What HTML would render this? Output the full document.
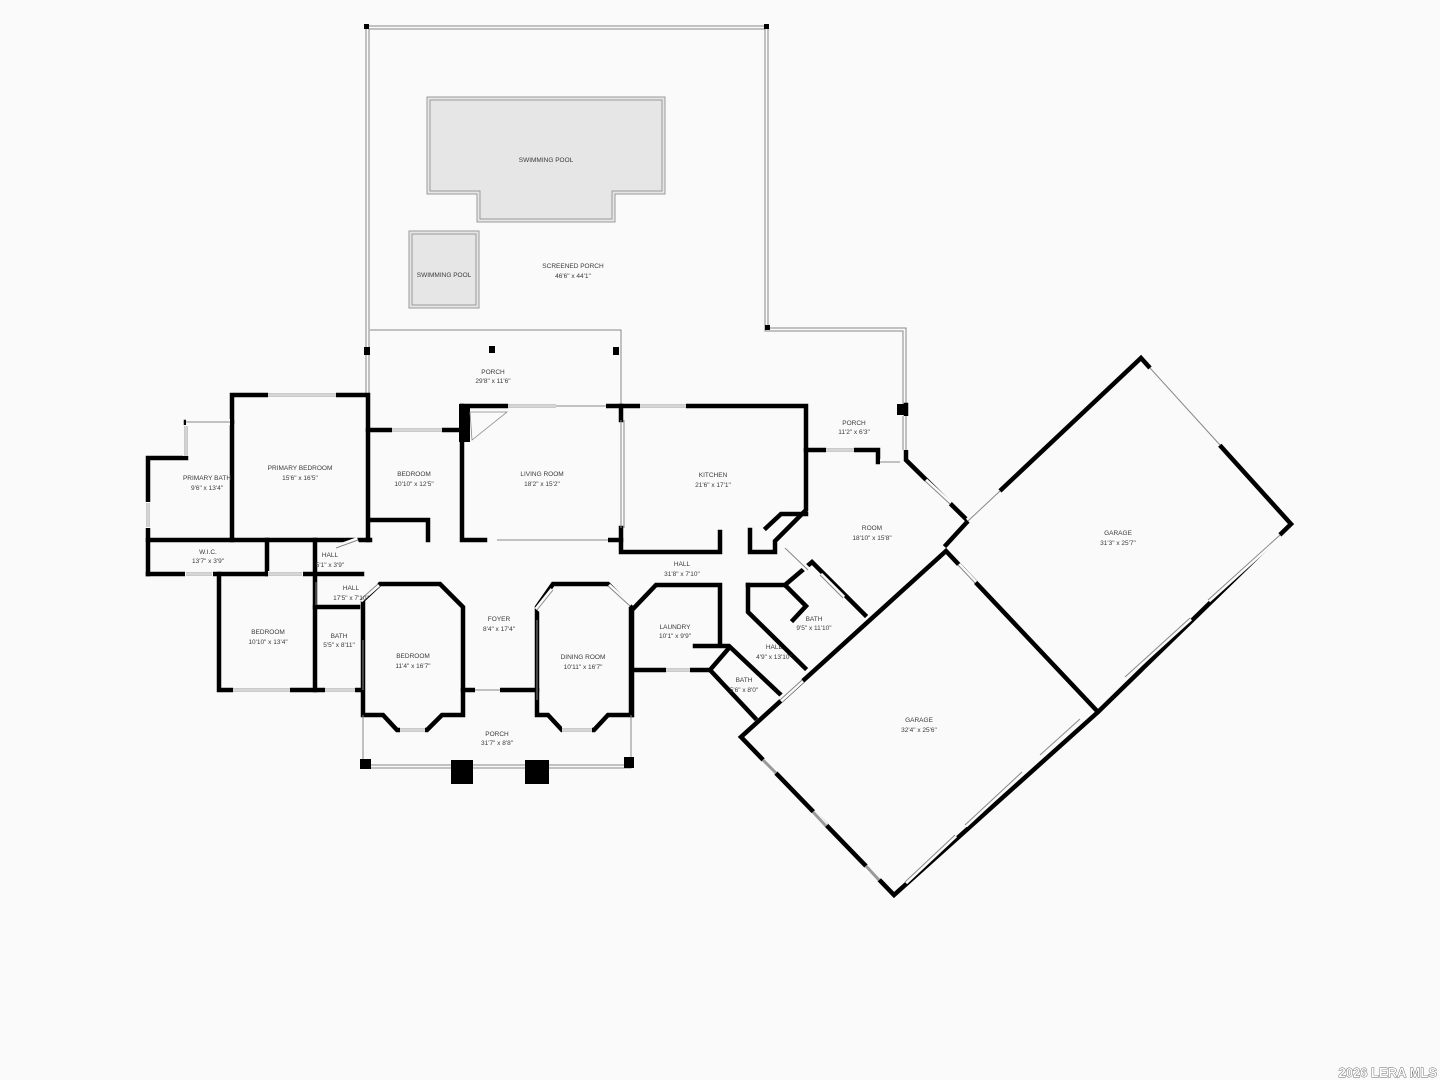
<!DOCTYPE html>
<html><head><meta charset="utf-8"><style>
html,body{margin:0;padding:0;background:#fafafa;width:1440px;height:1080px;overflow:hidden}
svg{display:block}
text{font-family:"Liberation Sans",sans-serif;font-size:6.5px;fill:#3a3a3a;text-anchor:middle}
.w{stroke:#000;stroke-width:4.5;fill:none;stroke-linecap:square}
.t{stroke:#888;stroke-width:1;fill:none}
.win{stroke:#999;stroke-width:3;fill:none}
.win2{stroke:#fafafa;stroke-width:1.2;fill:none}
.open{stroke:#fafafa;stroke-width:6;fill:none}
.wm{font-family:"Liberation Sans",sans-serif;font-weight:bold;font-size:13px;fill:#fff;stroke:#333;stroke-width:0.7;paint-order:stroke;text-anchor:end}
</style></head><body>
<svg width="1440" height="1080" viewBox="0 0 1440 1080" xmlns="http://www.w3.org/2000/svg">
<g class="t">
<path d="M366,26 H768 V328 H906 V405"/>
<path d="M369,29 H765 V331 H903 V405"/>
<path d="M366,26 V395 M369,29 V395"/>
<path d="M370,330 H621 V405"/>
</g>
<rect x="364" y="24" width="5" height="5"/><rect x="764" y="24" width="5" height="5"/><rect x="765" y="325" width="5" height="5"/>
<rect x="489" y="346" width="6" height="7"/><rect x="364" y="347" width="6" height="8"/><rect x="613" y="347" width="6" height="8"/>
<rect x="897" y="404" width="9" height="11"/>
<path d="M427,97 H665 V194 H615 V222 H477 V194 H427 Z" fill="#e6e6e6" stroke="#999" stroke-width="1"/>
<path d="M430,100 H662 V191 H612 V219 H480 V191 H430 Z" fill="none" stroke="#999" stroke-width="1"/>
<rect x="409" y="231" width="70" height="77" fill="#e6e6e6" stroke="#999" stroke-width="1"/>
<rect x="412" y="234" width="64" height="71" fill="none" stroke="#999" stroke-width="1"/>
<text x="546" y="162">SWIMMING POOL</text>
<text x="444" y="277">SWIMMING POOL</text>
<text x="573" y="268">SCREENED PORCH</text><text x="573" y="278">46'6" x 44'1"</text>
<g class="w">
<path d="M232,540 V395 H368 V540"/>
<path d="M148,574 V458 H186 V424 M186,422 H232"/>
<path d="M148,540 H370"/>
<path d="M148,574 H362"/>
<path d="M267,540 V574 M315,540 V690"/>
<path d="M219,574 V690 H362"/>
<path d="M315,607 H358"/>
<path d="M368,430 H462"/>
<path d="M370,520 H428 V540"/>
<path d="M462,406 H806 V510 L775,541 V552 H750 V530"/>
<path d="M462,406 V540 H485 M610,540 H621"/>
<path d="M621,406 V420 M621,528 V552 H720 V532"/>
<path d="M806,450 H878 V462"/>
<path d="M906,405 V460 L968,521 L946,545"/>
<path d="M766,528 L781,514 H806"/>
<path d="M968,521 L1141,358 L1291,524 L1098,712 L894,895 L741,737 L946,551 L1098,712"/>
<path d="M632,715 V610 L656,585 H720 V645"/>
<path d="M632,670 H710 L755,718"/>
<path d="M695,646 H729 L782,696"/>
<path d="M710,670 L729,648"/>
<path d="M748,585 H785 L806,606 L793,620 M785,585 L812,562 L865,615"/>
<path d="M748,585 V612 L805,668"/>
<path d="M363,715 V600 L380,584 H440 L463,607 V715 H442 L427,730 H397 L383,715 H363"/>
<path d="M463,690 H475 M500,690 H537"/>
<path d="M537,715 V607 L553,584 H608 L631,607 V715 H608 L594,730 H562 L548,715 H537"/>
</g>
<rect x="459" y="404" width="11" height="38"/>
<g>
<path class="open" d="M268,395 H336 M392,430 H442 M508,406 H556 M640,406 H686 M186,425 V456 M148,502 V528 M186,422 H230 M826,450 H854 M185,574 H213 M268,574 H303 M325,690 H355 M233,690 H290 M400,730 H425 M562,730 H592 M666,670 H690 M880,462 H900 M906,416 V450 M556,406 H606 M497,540 H608 M475,690 H500"/>
<path class="win" d="M268,395 H336 M392,430 H442 M508,406 H556 M640,406 H686 M186,426 V456 M148,503 V527 M186,574 H212 M268,574 H302 M325,690 H355 M233,690 H290 M400,730 H425 M562,730 H592 M666,670 H690 M826,450 H854"/>
<path class="win2" d="M268,395 H336 M392,430 H442 M508,406 H556 M640,406 H686 M186,426 V456 M148,503 V527 M186,574 H212 M268,574 H302 M325,690 H355 M233,690 H290 M400,730 H425 M562,730 H592 M666,670 H690 M826,450 H854"/>
<path class="t" d="M186,422 H230 M556,406 H606 M497,540 H608 M475,690 H500 M880,462 H900 M906,416 V450 M903,416 V450 M621,420 V528 M624,420 V528"/>
<path class="open" d="M925,481 L950,504 M968,521 L1000,491 M1150,368 L1220,445 M1280,535 L1208,600 M1190,618 L1125,677 M958,565 L975,583 M1080,719 L1040,755 M1022,772 L965,825 M955,835 L905,882 M763,760 L776,773 M813,812 L826,826 M866,866 L879,880 M802,680 L780,700 M336,548 L358,540 M378,584 L360,600 M537,610 L553,590 M608,586 L630,606 M785,548 L808,570 M820,575 L843,598"/>
<path class="t" d="M925,481 L950,504 M968,521 L1000,491 M1150,368 L1220,445 M1280,535 L1208,600 M1190,618 L1125,677 M958,565 L975,583 M1080,719 L1040,755 M1022,772 L965,825 M955,835 L905,882 M802,680 L780,700 M336,548 L358,540 M378,584 L360,600 M537,610 L553,590 M608,586 L630,606 M785,548 L808,570 M820,575 L843,598"/>
<path class="win" d="M763,760 L776,773 M813,812 L826,826 M866,866 L879,880"/>
<path class="t" d="M316,582 V605 M363,640 V690 M537,620 V700"/>
</g>
<path d="M470,412 H507 L472,440 Z" fill="none" stroke="#888" stroke-width="0.8"/>
<g class="t"><path d="M363,715 V768 H631 V715 M366,765 H628"/></g>
<rect x="360" y="759" width="11" height="10"/><rect x="451" y="760" width="22" height="24"/><rect x="525" y="760" width="24" height="24"/><rect x="624" y="757" width="10" height="11"/>
<text x="493" y="374">PORCH</text><text x="493" y="383">29'8" x 11'6"</text>
<text x="300" y="470">PRIMARY BEDROOM</text><text x="300" y="480">15'6" x 16'5"</text>
<text x="207" y="480">PRIMARY BATH</text><text x="207" y="490">9'6" x 13'4"</text>
<text x="414" y="476">BEDROOM</text><text x="414" y="486">10'10" x 12'5"</text>
<text x="542" y="476">LIVING ROOM</text><text x="542" y="486">18'2" x 15'2"</text>
<text x="713" y="477">KITCHEN</text><text x="713" y="487">21'6" x 17'1"</text>
<text x="854" y="425">PORCH</text><text x="854" y="434">11'2" x 6'3"</text>
<text x="872" y="530">ROOM</text><text x="872" y="540">18'10" x 15'8"</text>
<text x="1118" y="535">GARAGE</text><text x="1118" y="545">31'3" x 25'7"</text>
<text x="919" y="722">GARAGE</text><text x="919" y="732">32'4" x 25'6"</text>
<text x="208" y="554">W.I.C.</text><text x="208" y="563">13'7" x 3'9"</text>
<text x="330" y="557">HALL</text><text x="330" y="567">5'1" x 3'9"</text>
<text x="351" y="590">HALL</text><text x="351" y="600">17'5" x 7'10"</text>
<text x="268" y="634">BEDROOM</text><text x="268" y="644">10'10" x 13'4"</text>
<text x="339" y="638">BATH</text><text x="339" y="647">5'5" x 8'11"</text>
<text x="413" y="658">BEDROOM</text><text x="413" y="668">11'4" x 16'7"</text>
<text x="499" y="621">FOYER</text><text x="499" y="631">8'4" x 17'4"</text>
<text x="583" y="659">DINING ROOM</text><text x="583" y="669">10'11" x 16'7"</text>
<text x="682" y="566">HALL</text><text x="682" y="576">31'8" x 7'10"</text>
<text x="675" y="629">LAUNDRY</text><text x="675" y="638">10'1" x 9'9"</text>
<text x="814" y="621">BATH</text><text x="814" y="630">9'5" x 11'10"</text>
<text x="774" y="649">HALL</text><text x="774" y="659">4'9" x 13'10"</text>
<text x="744" y="682">BATH</text><text x="744" y="692">5'6" x 8'0"</text>
<text x="497" y="736">PORCH</text><text x="497" y="745">31'7" x 8'8"</text>
<text class="wm" x="1437" y="1077">2026 LERA MLS</text>
</svg>
</body></html>
